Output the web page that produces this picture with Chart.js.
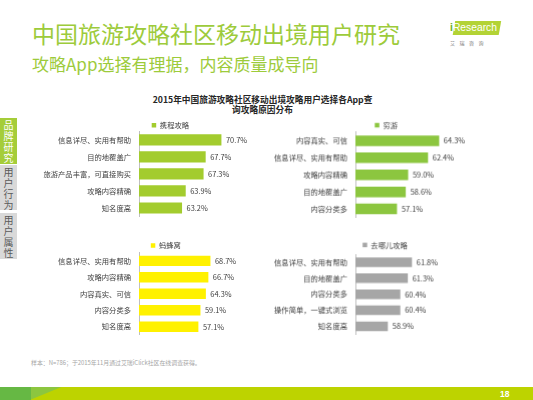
<!DOCTYPE html>
<html>
<head>
<meta charset="utf-8">
<script src="https://cdn.jsdelivr.net/npm/chart.js@4.4.0/dist/chart.umd.min.js"></script>
<style>
  html, body { margin:0; padding:0; width:533px; height:400px; overflow:hidden; background:#fff;
    font-family:'Noto Sans CJK SC','Microsoft YaHei',sans-serif; }
  .abs { position:absolute; white-space:nowrap; }
  .title { left:32px; top:20px; font-size:23px; line-height:26px; color:#9DCB3B; }
  .subtitle { left:32px; top:53.5px; font-size:17px; line-height:20px; color:#9DCB3B; }
  .ctitle { left:0; width:525px; text-align:center; font-size:8.7px; font-weight:bold; color:#262626; line-height:11px; }
  .side { position:absolute; left:0; width:17px; color:#fff; font-size:10px; line-height:11px; text-align:center; padding-top:1px; box-sizing:border-box; }
  .side span { display:block; width:17px; height:11px; }
  .note { left:31px; top:359px; font-size:5.9px; line-height:8px; color:#A6A6A6; }
  .box { position:absolute; }
</style>
</head>
<body>
<div class="abs title">中国旅游攻略社区移动出境用户研究</div>
<div class="abs subtitle">攻略App选择有理据，内容质量成导向</div>

<!-- logo -->
<div class="abs" style="left:454px;top:21px;width:46px;height:13.5px;background:#B3D335;transform:skewX(-10deg);"></div>
<div class="abs" style="left:450px;top:20px;font-size:10.3px;line-height:15px;font-family:'Liberation Sans',sans-serif;">
  <span style="color:#6AB023;font-weight:bold;">i</span><span style="color:#fff;">Research</span>
</div>
<div class="abs" style="left:450px;top:40px;font-size:5px;line-height:6px;color:#777;letter-spacing:4.5px;">艾瑞咨询</div>

<div class="abs ctitle" style="top:93.5px;">2015年中国旅游攻略社区移动出境攻略用户选择各App查</div>
<div class="abs ctitle" style="top:104.2px;">询攻略原因分布</div>

<div class="side" style="top:117.5px;height:46px;background:#A5CD39;"><span>品</span><span>牌</span><span>研</span><span>究</span></div>
<div class="side" style="top:165px;height:45px;background:#D9D9D9;color:#595959;"><span>用</span><span>户</span><span>行</span><span>为</span></div>
<div class="side" style="top:212.7px;height:46.6px;background:#D9D9D9;color:#595959;"><span>用</span><span>户</span><span>属</span><span>性</span></div>

<div class="box" style="left:40px;top:108.65px;width:230px;height:119.85px;"><canvas id="c1"></canvas></div>
<div class="box" style="left:262px;top:102.05px;width:231.6px;height:126.95px;"><canvas id="c2"></canvas></div>
<div class="box" style="left:40px;top:229.55px;width:229px;height:117.25px;"><canvas id="c3"></canvas></div>
<div class="box" style="left:262px;top:234.15px;width:230.9px;height:111.75px;"><canvas id="c4"></canvas></div>

<div class="abs note">样本：N=786；于2015年11月通过艾瑞iClick社区在线调查获得。</div>

<!-- footer band -->
<div class="abs" style="left:0;top:386.7px;width:533px;height:13.3px;background:#BDD300;"></div>
<div class="abs" style="left:0;top:386.7px;width:62px;height:13.3px;background:#8CC63F;clip-path:polygon(0 0,100% 0,48% 100%,0 100%);"></div>
<div class="abs" style="left:0;top:386.7px;width:31px;height:13.3px;background:#66B844;"></div>
<div class="abs" style="left:500px;top:388px;font-size:8.5px;line-height:12px;font-weight:bold;color:#fff;font-family:'Liberation Sans',sans-serif;">18</div>

<script>
// ---- data ----
const categories1 = ['信息详尽、实用有帮助', '目的地覆盖广', '旅游产品丰富，可直接购买', '攻略内容精确', '知名度高'];
const values1 = [70.7, 67.7, 67.3, 63.9, 63.2];
const series1 = '携程攻略';

const categories2 = ['内容真实、可信', '信息详尽、实用有帮助', '攻略内容精确', '目的地覆盖广', '内容分类多'];
const values2 = [64.3, 62.4, 59.0, 58.6, 57.1];
const series2 = '穷游';

const categories3 = ['信息详尽、实用有帮助', '攻略内容精确', '内容真实、可信', '内容分类多', '知名度高'];
const values3 = [68.7, 66.7, 64.3, 59.1, 57.1];
const series3 = '蚂蜂窝';

const categories4 = ['信息详尽、实用有帮助', '目的地覆盖广', '内容分类多', '操作简单，一键式浏览', '知名度高'];
const values4 = [61.8, 61.3, 60.4, 60.4, 58.9];
const series4 = '去哪儿攻略';

const FONT = "'Noto Sans CJK SC','Microsoft YaHei',sans-serif";
Chart.defaults.font.family = FONT;

const valueLabels = {
  id: 'valueLabels',
  afterDatasetsDraw(chart) {
    const ctx = chart.ctx;
    const meta = chart.getDatasetMeta(0);
    const data = chart.data.datasets[0].data;
    ctx.save();
    ctx.font = '7.4px ' + FONT;
    ctx.fillStyle = '#404040';
    ctx.textAlign = 'left';
    ctx.textBaseline = 'middle';
    meta.data.forEach((bar, i) => {
      ctx.fillText(data[i].toFixed(1) + '%', bar.x + 4.5, bar.y);
    });
    ctx.restore();
  }
};

function makeChart(id, cats, vals, name, color, o) {
  return new Chart(document.getElementById(id), {
    type: 'bar',
    data: {
      labels: cats,
      datasets: [{
        label: name,
        data: vals,
        backgroundColor: color,
        borderWidth: 0,
        barPercentage: o.barPct,
        categoryPercentage: 1
      }]
    },
    options: {
      indexAxis: 'y',
      responsive: true,
      maintainAspectRatio: false,
      animation: false,
      layout: { padding: { left: 0, right: o.padR, top: 0, bottom: 0 } },
      plugins: {
        legend: {
          position: 'top',
          fullSize: false,
          align: 'start',
          maxHeight: o.legendH,
          labels: {
            boxWidth: 4.5, boxHeight: 4.5, padding: o.legPad,
            color: '#404040',
            font: { size: 7.3, family: FONT }
          }
        },
        tooltip: { enabled: false }
      },
      scales: {
        x: { type: 'linear', display: false, min: o.min, max: o.max },
        y: {
          grid: { display: false, drawTicks: false },
          border: { display: true, color: '#BFBFBF', width: 1 },
          ticks: { autoSkip: false, padding: 8, color: '#404040', font: { size: 7.3, family: FONT } },
          afterFit: (s) => { s.width = o.yW; }
        }
      }
    },
    plugins: [valueLabels]
  });
}

makeChart('c1', categories1, values1, series1, '#A3CC2E', { min: 55, max: 75, padR: 26, yW: 99, legPad: 12.7, legendH: 22.35, barPct: 0.65 });
makeChart('c2', categories2, values2, series2, '#8CC63F', { min: 50, max: 70, padR: 22, yW: 93, legPad: 19.3, legendH: 29.95, barPct: 0.62 });
makeChart('c3', categories3, values3, series3, '#FFF100', { min: 0, max: 100, padR: 26, yW: 99, legPad: 11.8, legendH: 22.65, barPct: 0.635 });
makeChart('c4', categories4, values4, series4, '#A6A6A6', { min: 55, max: 69, padR: 22, yW: 93, legPad: 7.2, legendH: 20.0, barPct: 0.6 });
</script>
</body>
</html>
